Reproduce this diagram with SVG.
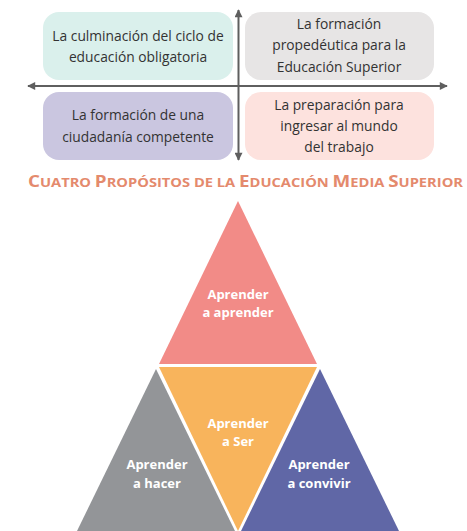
<svg xmlns="http://www.w3.org/2000/svg" width="467" height="531" viewBox="0 0 467 531">
<style>
.box text{font-family:"Open Sans","Noto Sans",sans-serif;font-size:13.8px;fill:#333;text-anchor:middle}
.tri text{font-family:"Open Sans","Noto Sans",sans-serif;font-size:13px;font-weight:bold;fill:#fff;text-anchor:middle}
.title{font-family:"Open Sans","Noto Sans",sans-serif;font-weight:bold;fill:#e48a6d}
.ax{stroke:#5f5f5f;stroke-width:2;fill:none}
</style>
<defs>
<marker id="ah" viewBox="0 0 10 10" refX="9" refY="5" markerWidth="5" markerHeight="4" orient="auto-start-reverse" markerUnits="strokeWidth">
<path d="M0,0 L10,5 L0,10 Z" fill="#5f5f5f"/>
</marker>
</defs>
<g id="box1" class="box">
<rect x="43" y="12" width="190" height="68" rx="16" fill="#daf0ec"/>
<text x="138" y="41">La culminación del ciclo de</text>
<text x="138" y="62">educación obligatoria</text>
</g>
<g id="box2" class="box">
<rect x="245" y="12" width="189" height="68" rx="16" fill="#e7e5e5"/>
<text x="339" y="29">La formación</text>
<text x="339" y="50">propedéutica para la</text>
<text x="339" y="72">Educación Superior</text>
</g>
<g id="box3" class="box">
<rect x="43" y="92" width="190" height="68" rx="16" fill="#cac6e0"/>
<text x="138" y="120">La formación de una</text>
<text x="138" y="142">ciudadanía competente</text>
</g>
<g id="box4" class="box">
<rect x="245" y="92" width="189" height="68" rx="16" fill="#fde2de"/>
<text x="339" y="110">La preparación para</text>
<text x="339" y="131">ingresar al mundo</text>
<text x="339" y="152">del trabajo</text>
</g>
<g id="connectors">
<line class="ax" x1="238.5" y1="160" x2="238.5" y2="10" marker-end="url(#ah)" marker-start="url(#ah)"/>
<line class="ax" x1="28" y1="86" x2="447" y2="86" marker-end="url(#ah)" marker-start="url(#ah)"/>
</g>
<text class="title" x="28" y="187" textLength="435" lengthAdjust="spacingAndGlyphs"><tspan font-size="16">C</tspan><tspan font-size="12.5">UATRO </tspan><tspan font-size="16">P</tspan><tspan font-size="12.5">ROPÓSITOS DE LA </tspan><tspan font-size="16">E</tspan><tspan font-size="12.5">DUCACIÓN </tspan><tspan font-size="16">M</tspan><tspan font-size="12.5">EDIA </tspan><tspan font-size="16">S</tspan><tspan font-size="12.5">UPERIOR</tspan></text>
<g id="tri-aprender" class="tri">
<polygon points="238,201 317,364 159,364" fill="#f28b87"/>
<text x="238" y="299">Aprender</text>
<text x="238" y="317">a aprender</text>
</g>
<g id="tri-ser" class="tri">
<polygon points="159,367 317,367 238,531" fill="#f8b45c"/>
<text x="238" y="428">Aprender</text>
<text x="238" y="446">a Ser</text>
</g>
<g id="tri-hacer" class="tri">
<polygon points="156,369 235,531 77,531" fill="#939598"/>
<text x="157" y="469">Aprender</text>
<text x="157" y="488">a hacer</text>
</g>
<g id="tri-convivir" class="tri">
<polygon points="320,369 399,531 241,531" fill="#6067a6"/>
<text x="319" y="469">Aprender</text>
<text x="319" y="488">a convivir</text>
</g>
</svg>
